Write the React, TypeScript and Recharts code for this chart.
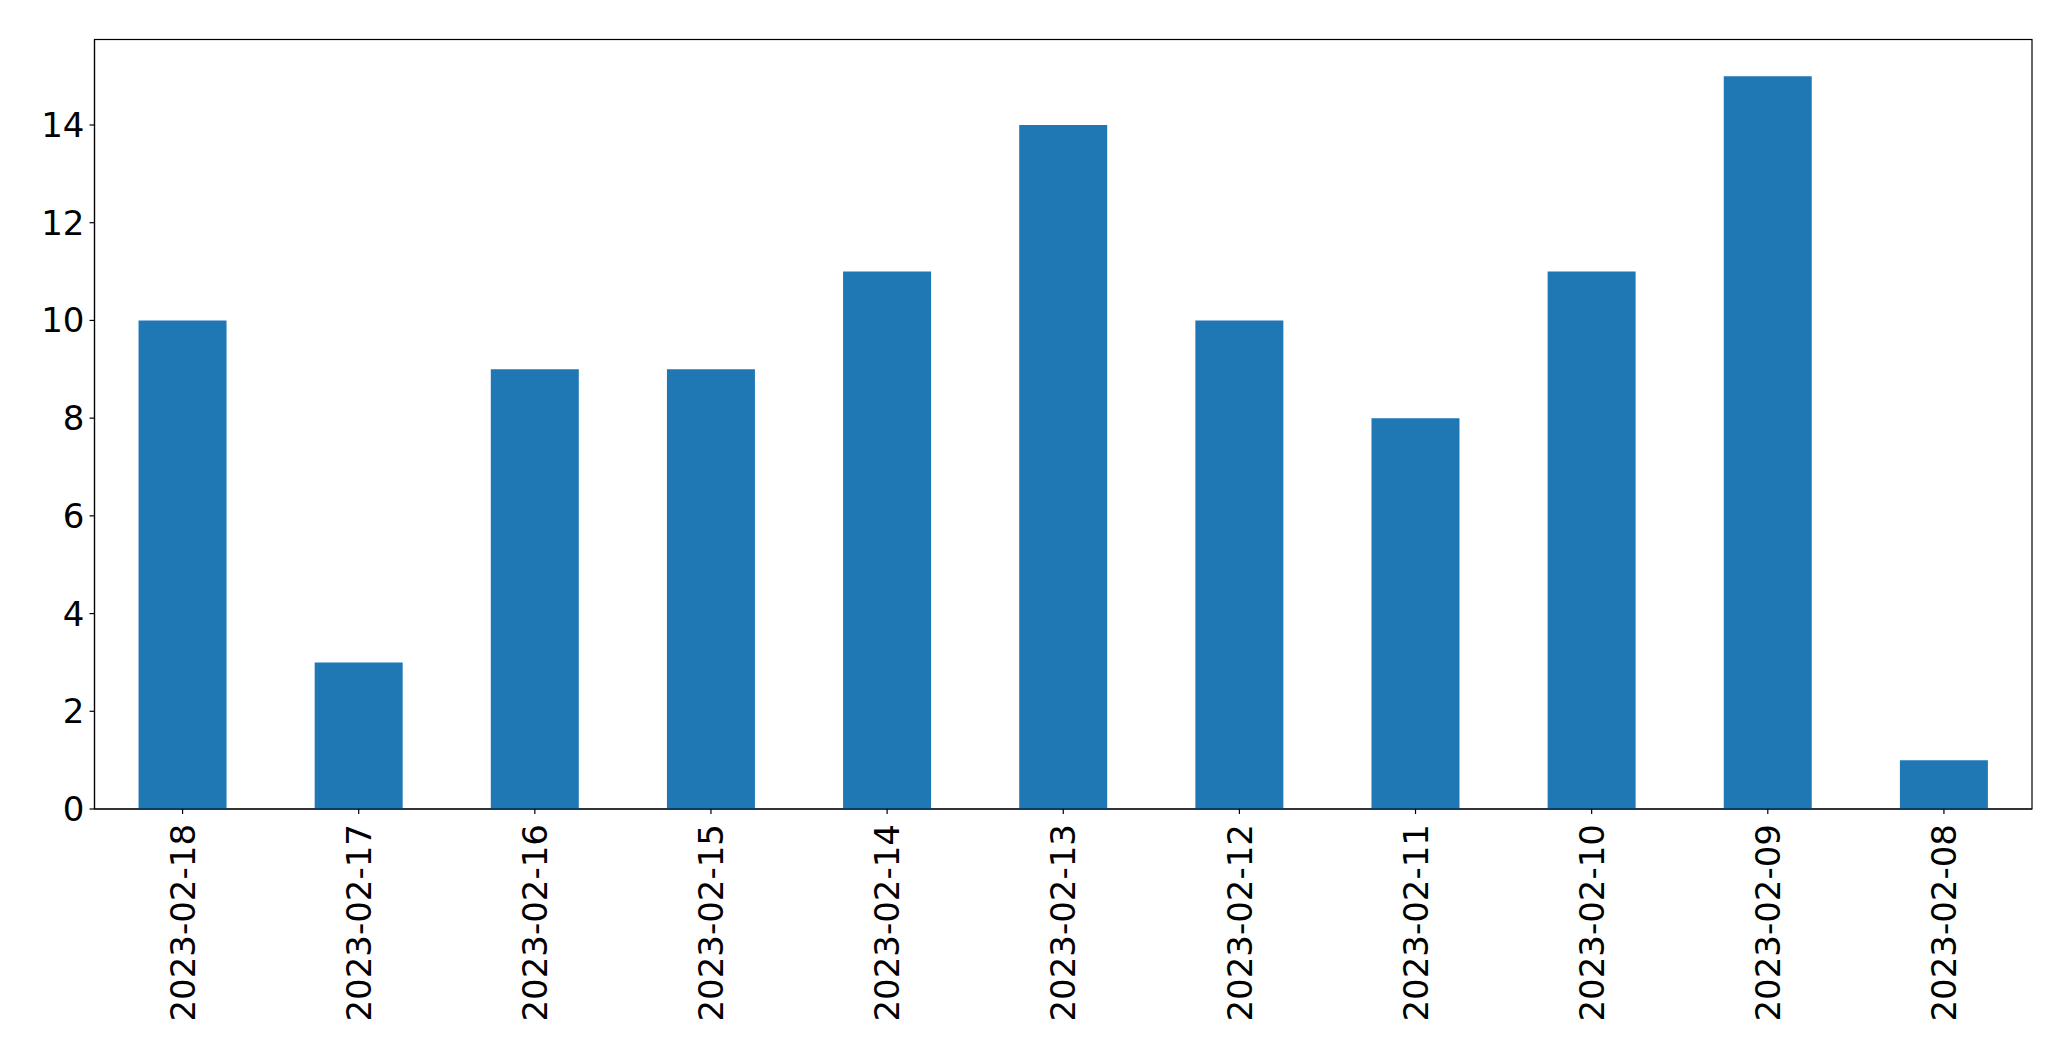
import React from "react";
import * as R from "recharts";
import { BarChart, Bar, XAxis, YAxis, Customized } from "recharts";

const dates = [
  "2023-02-18", "2023-02-17", "2023-02-16", "2023-02-15", "2023-02-14", "2023-02-13",
  "2023-02-12", "2023-02-11", "2023-02-10", "2023-02-09", "2023-02-08",
];
const counts = [10, 3, 9, 9, 11, 14, 10, 8, 11, 15, 1];
const yTicks = [0, 2, 4, 6, 8, 10, 12, 14];

const data = dates.map((d, i) => ({ date: d, count: counts[i] }));

const FONT = "DejaVu Sans";
const FS = 34;

const XTick = (props: any) => {
  const { x, y, payload } = props;
  return (
    <text
      x={x}
      y={y}
      transform={`rotate(-90, ${x}, ${y})`}
      textAnchor="end"
      dy="0.36em"
      fontFamily={FONT}
      fontSize={FS}
      fill="#000"
    >
      {payload.value}
    </text>
  );
};

const Frame = () => {
  const hook: any = (R as any).usePlotArea || (R as any).useOffset;
  const area: any = hook ? hook() : null;
  if (!area) return null;
  const x = area.x !== undefined ? area.x : area.left;
  const y = area.y !== undefined ? area.y : area.top;
  const w = area.width;
  const h = area.height;
  if (w === undefined || h === undefined) return null;
  return <rect x={x} y={y} width={w} height={h} fill="none" stroke="#000" strokeWidth={1.2} />;
};

export default function App() {
  return (
    <div style={{ position: "absolute", left: 0, top: 0, width: 2071, height: 1061, background: "#fff" }}>
      <BarChart
        width={2071}
        height={1061}
        data={data}
        margin={{ top: 39.5, right: 39, bottom: 0, left: 0 }}
        barCategoryGap="25%"
      >
        <XAxis
          dataKey="date"
          type="category"
          height={252}
          tick={<XTick />}
          tickSize={5}
          tickMargin={10}
          interval={0}
          axisLine={{ stroke: "#000", strokeWidth: 1.2 }}
          tickLine={{ stroke: "#000", strokeWidth: 1.2 }}
        />
        <YAxis
          domain={[0, 15.75]}
          ticks={yTicks}
          width={94.5}
          tickSize={5}
          tickMargin={5}
          interval={0}
          allowDataOverflow
          tick={{ fontFamily: FONT, fontSize: FS, fill: "#000" }}
          axisLine={{ stroke: "#000", strokeWidth: 1.2 }}
          tickLine={{ stroke: "#000", strokeWidth: 1.2 }}
        />
        <Bar dataKey="count" fill="#1f77b4" isAnimationActive={false} />
        <Customized component={Frame} />
      </BarChart>
    </div>
  );
}
